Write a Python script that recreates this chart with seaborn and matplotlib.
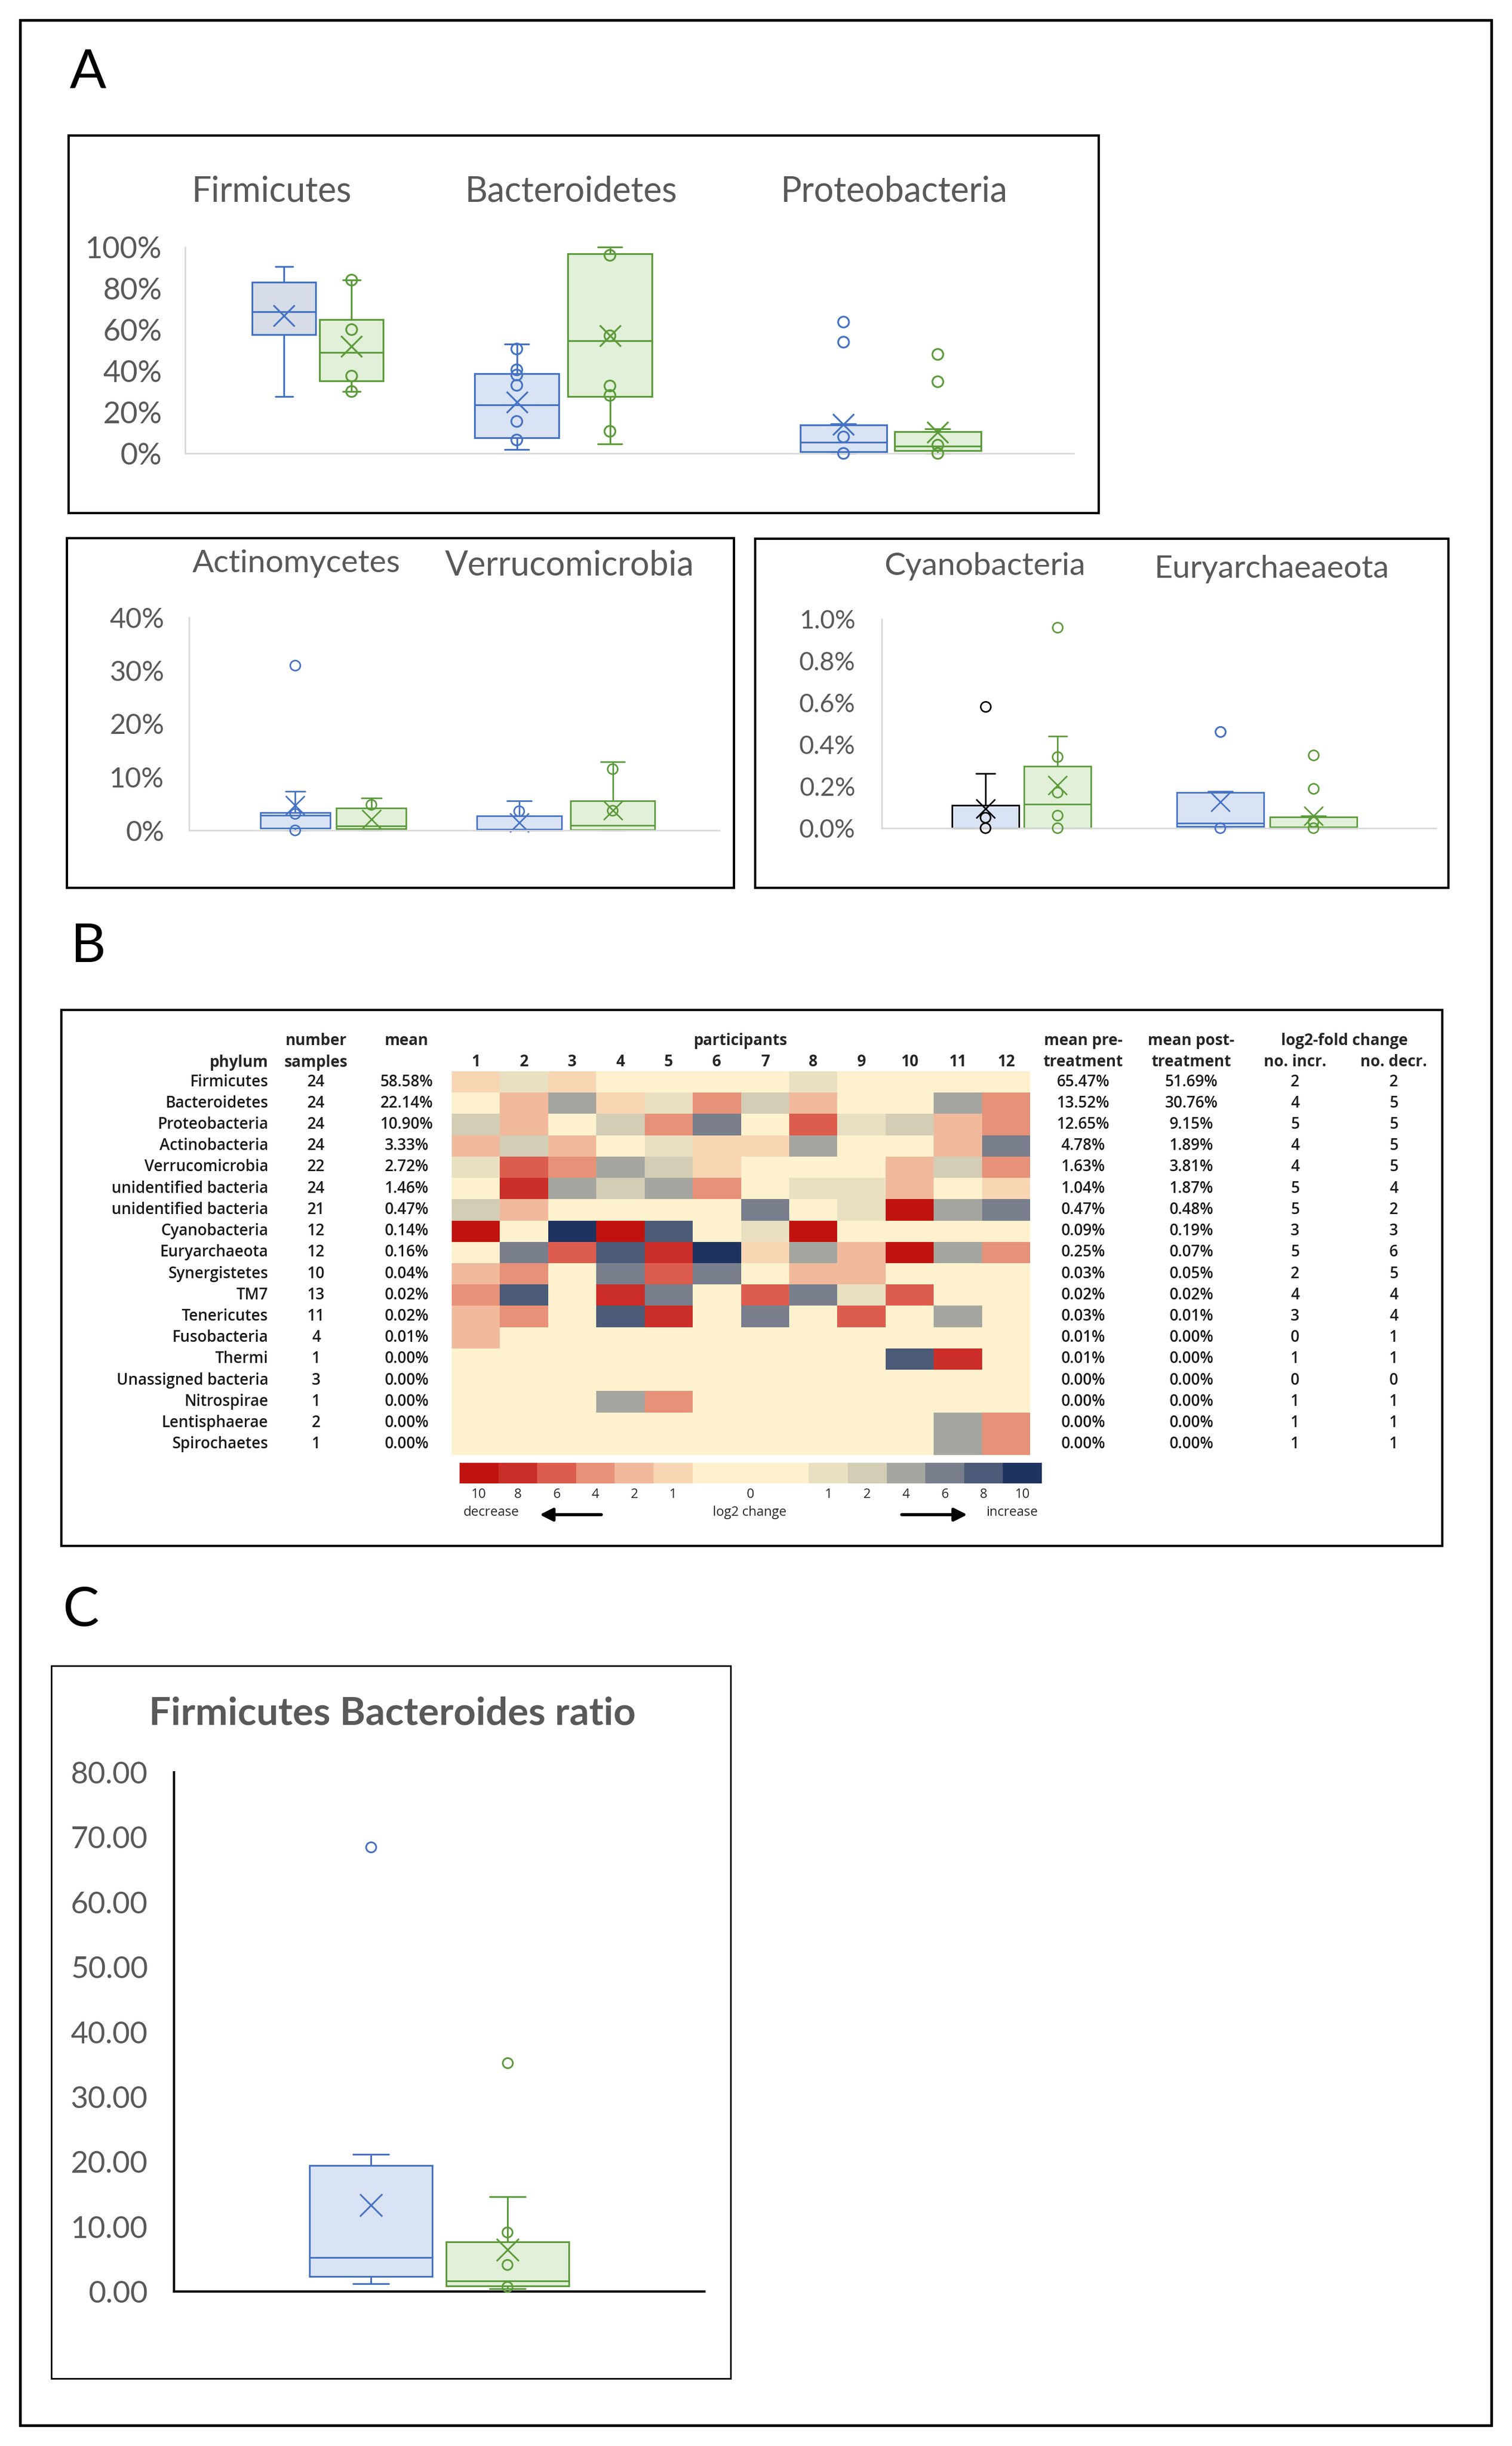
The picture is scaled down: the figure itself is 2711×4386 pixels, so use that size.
import numpy as np
import pandas as pd
import matplotlib
matplotlib.use("Agg")
import matplotlib.pyplot as plt
import seaborn as sns
from matplotlib.colors import ListedColormap, BoundaryNorm
from matplotlib.transforms import blended_transform_factory as blend
from matplotlib.patches import Rectangle, FancyArrowPatch

# ======================= DATA =======================
treatments = ["pre", "post"]

# Panel A, top: relative abundance (%) per participant, pre / post
top_phyla = ["Firmicutes", "Bacteroidetes", "Proteobacteria"]
firmicutes_pre = [27.6, 40, 56, 58.2, 62, 67, 70.4, 72, 82, 86, 88, 90.5]
firmicutes_post = [30, 33, 34.5, 35.2, 37.5, 47, 51, 60, 63, 71, 75, 84]
bacteroidetes_pre = [2, 4, 6.5, 8.1, 15.5, 21, 26.2, 33, 38, 40.5, 50.6, 53]
bacteroidetes_post = [4.5, 10.7, 26, 28.1, 32.7, 52, 57, 78, 96, 99.2, 99.6, 100]
proteobacteria_pre = [0, 0.3, 0.5, 0.9, 3, 5, 5.8, 8, 13.5, 14.3, 54, 63.7]
proteobacteria_post = [0, 0.5, 1.0, 1.3, 2.5, 3.2, 4.0, 6, 10, 12, 35, 48]
# inner points drawn as circles
firmicutes_pre_pts = []
firmicutes_post_pts = [84, 60, 37.5, 30]
bacteroidetes_pre_pts = [50.6, 40.5, 38, 33, 15.5, 6.5]
bacteroidetes_post_pts = [96, 57, 32.7, 28.1, 10.7]
proteobacteria_pre_pts = [8, 0]
proteobacteria_post_pts = [4.0, 0]

# Panel A, bottom left
mid_phyla = ["Actinomycetes", "Verrucomicrobia"]
actino_pre = [0, 0.2, 0.3, 0.5, 1.5, 2.5, 3.1, 3.2, 3.3, 3.7, 7.3, 31]
actino_post = [0, 0.1, 0.15, 0.3, 0.5, 0.7, 0.9, 2.0, 4.0, 4.8, 5.5, 6.1]
verruco_pre = [0, 0, 0, 0, 0.1, 0.2, 0.3, 1.5, 2.5, 3.3, 3.6, 5.5]
verruco_post = [0, 0, 0.1, 0.15, 0.5, 0.8, 1.0, 3.0, 3.7, 11.0, 11.5, 12.9]
actino_pre_pts = [3.1, 0]
actino_post_pts = [4.8]
verruco_pre_pts = [3.6]
verruco_post_pts = [11.5, 3.7]

# Panel A, bottom right
low_phyla = ["Cyanobacteria", "Euryarchaeaeota"]
cyano_pre = [0, 0, 0, 0, 0, 0, 0, 0.05, 0.1, 0.14, 0.26, 0.58]
cyano_post = [0, 0, 0, 0, 0.03, 0.06, 0.17, 0.2, 0.28, 0.34, 0.44, 0.96]
eury_pre = [0, 0, 0, 0.01, 0.02, 0.02, 0.03, 0.17, 0.17, 0.175, 0.46, 0.46]
eury_post = [0, 0, 0, 0, 0, 0, 0.01, 0.03, 0.05, 0.06, 0.19, 0.35]
cyano_pre_pts = [0.05, 0]
cyano_post_pts = [0.34, 0.17, 0.06, 0]
eury_pre_pts = [0]
eury_post_pts = [0.03, 0]

# Panel C: Firmicutes / Bacteroides ratio
ratio_cat = ["Firmicutes Bacteroides ratio"]
fb_pre = [1.2, 1.5, 2.1, 2.4, 4.5, 5.0, 5.4, 8.0, 18.9, 20.9, 21.1, 68.5]
fb_post = [0.4, 0.5, 0.7, 0.9, 1.2, 1.4, 1.8, 4.1, 7.2, 9.1, 14.6, 35.2]
fb_pre_pts = []
fb_post_pts = [9.1, 4.1, 0.7]

# Panel B: heatmap table
hm_phyla = ["Firmicutes", "Bacteroidetes", "Proteobacteria", "Actinobacteria",
            "Verrucomicrobia", "unidentified bacteria", "unidentified bacteria",
            "Cyanobacteria", "Euryarchaeota", "Synergistetes", "TM7", "Tenericutes",
            "Fusobacteria", "Thermi", "Unassigned bacteria", "Nitrospirae",
            "Lentisphaerae", "Spirochaetes"]
n_samples = [24, 24, 24, 24, 22, 24, 21, 12, 12, 10, 13, 11, 4, 1, 3, 1, 2, 1]
mean_all = [58.58, 22.14, 10.90, 3.33, 2.72, 1.46, 0.47, 0.14, 0.16, 0.04, 0.02,
            0.02, 0.01, 0.00, 0.00, 0.00, 0.00, 0.00]
mean_pre = [65.47, 13.52, 12.65, 4.78, 1.63, 1.04, 0.47, 0.09, 0.25, 0.03, 0.02,
            0.03, 0.01, 0.01, 0.00, 0.00, 0.00, 0.00]
mean_post = [51.69, 30.76, 9.15, 1.89, 3.81, 1.87, 0.48, 0.19, 0.07, 0.05, 0.02,
             0.01, 0.00, 0.00, 0.00, 0.00, 0.00, 0.00]
n_incr = [2, 4, 5, 4, 4, 5, 5, 3, 5, 2, 4, 3, 0, 1, 0, 1, 1, 1]
n_decr = [2, 5, 5, 5, 5, 4, 2, 3, 6, 5, 4, 4, 1, 1, 0, 1, 1, 1]
participants = [str(i) for i in range(1, 13)]
# log2 change per participant (negative = decrease, positive = increase)
log2_change = [
    [-1, 1, -1, 0, 0, 0, 0, 1, 0, 0, 0, 0],
    [0, -2, 4, -1, 1, -4, 2, -2, 0, 0, 4, -4],
    [2, -2, 0, 2, -4, 6, 0, -6, 1, 2, -2, -4],
    [-2, 2, -2, 0, 1, -1, -1, 4, 0, 0, -2, 6],
    [1, -6, -4, 4, 2, -1, 0, 0, 0, -2, 2, -4],
    [0, -8, 4, 2, 4, -4, 0, 1, 1, -2, 0, -1],
    [2, -2, 0, 0, 0, 0, 6, 0, 1, -10, 4, 6],
    [-10, 0, 10, -10, 8, 0, 1, -10, 0, 0, 0, 0],
    [0, 6, -6, 8, -8, 10, -1, 4, -2, -10, 4, -4],
    [-2, -4, 0, 6, -6, 6, 0, -2, -2, 0, 0, 0],
    [-4, 8, 0, -8, 6, 0, -6, 6, 1, -6, 0, 0],
    [-2, -4, 0, 8, -8, 0, 6, 0, -6, 0, 4, 0],
    [-2, 0, 0, 0, 0, 0, 0, 0, 0, 0, 0, 0],
    [0, 0, 0, 0, 0, 0, 0, 0, 0, 8, -8, 0],
    [0, 0, 0, 0, 0, 0, 0, 0, 0, 0, 0, 0],
    [0, 0, 0, 4, -4, 0, 0, 0, 0, 0, 0, 0],
    [0, 0, 0, 0, 0, 0, 0, 0, 0, 0, 4, -4],
    [0, 0, 0, 0, 0, 0, 0, 0, 0, 0, 4, -4],
]
level_values = [-10, -8, -6, -4, -2, -1, 0, 1, 2, 4, 6, 8, 10]
level_colors = ["#C0130F", "#CB2E28", "#DC5D4E", "#E79178", "#F1B99B", "#F8D6B4",
                "#FEF1CD", "#E9E0C2", "#D3CDB6", "#A5A6A0", "#787E8C", "#4B5B78",
                "#1F3360"]
legend_cells = [-10, -8, -6, -4, -2, -1, 0, 0, 0, 1, 2, 4, 6, 8, 10]

# ======================= STYLE =======================
W, H = 2711, 4386
sns.set_theme(style="white")
plt.rcParams["font.family"] = ["Lato", "DejaVu Sans"]
TXT = "#595959"
BLUE = "#4472C4"
GREEN = "#5B9B3A"
FILL_PRE = "#DAE3F3"
FILL_PRE_GRAY = "#D6DCE5"
FILL_POST = "#E2F0D9"
HMFONT = ["Open Sans", "DejaVu Sans"]
HMWEIGHT = "semibold"

fig = plt.figure(figsize=(W / 100, H / 100), dpi=100)
fig.patch.set_facecolor("white")


def fx(x):
    return x / W


def fy(y):
    return 1 - y / H


def axes_px(l, t, r, b):
    return fig.add_axes([fx(l), fy(b), (r - l) / W, (b - t) / H])


def frame(l, t, r, b, lw):
    fig.add_artist(Rectangle((fx(l), fy(b)), (r - l) / W, (b - t) / H,
                             transform=fig.transFigure, fill=False,
                             edgecolor="black", linewidth=lw, zorder=20))


def long_df(cats, pre_lists, post_lists):
    rows = []
    for c, pre, post in zip(cats, pre_lists, post_lists):
        rows += [(c, "pre", v) for v in pre]
        rows += [(c, "post", v) for v in post]
    return pd.DataFrame(rows, columns=["phylum", "treatment", "value"])


def draw_box_panel(ax, cats, order, pre_lists, post_lists, pre_pts, post_pts,
                   widths, gaps, edges, fills, lw, mean_ms, fl_ms):
    df = long_df(cats, pre_lists, post_lists)
    pts = long_df(cats, pre_pts, post_pts)
    for ci, cat in enumerate(cats):
        pos = order.index(cat)
        for ti, t in enumerate(treatments):
            ec = edges[ci][ti]
            fc = fills[ci][ti]
            sub = df[(df["phylum"] == cat) & (df["treatment"] == t)]
            sns.boxplot(data=sub, x="phylum", y="value", hue="treatment",
                        order=order, hue_order=treatments, dodge=True,
                        width=widths[ci], gap=gaps[ci],
                        palette={k: fc for k in treatments}, saturation=1,
                        linecolor=ec, linewidth=lw, whis=1.5,
                        showmeans=True,
                        meanprops=dict(marker="x", markeredgecolor=ec,
                                       markerfacecolor=ec, markersize=mean_ms,
                                       markeredgewidth=lw),
                        flierprops=dict(marker="o", markerfacecolor="none",
                                        markeredgecolor=ec, markersize=fl_ms,
                                        markeredgewidth=lw),
                        capwidths=widths[ci] * 0.13,
                        legend=False, ax=ax)
            psub = pts[(pts["phylum"] == cat) & (pts["treatment"] == t)]
            if len(psub):
                n0 = len(ax.collections)
                sns.stripplot(data=psub, x="phylum", y="value", hue="treatment",
                              order=order, hue_order=treatments, dodge=True,
                              jitter=False, palette={k: ec for k in treatments},
                              size=fl_ms, linewidth=lw, legend=False, ax=ax,
                              zorder=6)
                for coll in list(ax.collections[n0:]):
                    off = np.array(coll.get_offsets())
                    if off.shape[0] == 0:
                        coll.remove()
                        continue
                    coll.set_facecolor("none")
                    coll.set_edgecolor(ec)
                    off[:, 0] = pos + (off[:, 0] - pos) * (widths[ci] / 4) / 0.2
                    coll.set_offsets(off)


def style_box_axes(ax, xlim, ylim, ticks, labels, fs, pad, spine_color, spine_lw):
    ax.set_xlim(xlim)
    ax.set_ylim(ylim)
    ax.set_xlabel("")
    ax.set_ylabel("")
    ax.set_xticks([])
    ax.set_yticks(ticks)
    ax.set_yticklabels(labels)
    ax.tick_params(axis="y", length=0, pad=pad, labelsize=fs, labelcolor=TXT)
    ax.spines[["top", "right"]].set_visible(False)
    for s in ["left", "bottom"]:
        ax.spines[s].set_color(spine_color)
        ax.spines[s].set_linewidth(spine_lw)
    ax.set_facecolor("none")
    ax.grid(False)
    for a in list(ax.lines) + list(ax.patches) + list(ax.collections):
        a.set_clip_on(False)


# ======================= FRAMES & LETTERS =======================
frame(36, 36, 2674, 4349, 3.5)
frame(123, 243, 1970, 920, 3)
frame(120, 965, 1316, 1592, 3)
frame(1354, 966, 2597, 1592, 3)
frame(110, 1811, 2586, 2772, 3)
frame(92, 2987, 1310, 4265, 2)
for letter, (x, y) in zip(["A", "B", "C"], [(158, 131), (158, 1698), (145, 2889)]):
    fig.text(fx(x), fy(y), letter, fontsize=70, ha="center", va="center", color="black")

# ======================= PANEL A TOP =======================
# three phyla on one axis; unused slots give the uneven spacing of the original
top_order = [top_phyla[0], "_a", "_b", top_phyla[1], "_c", "_d", "_e", top_phyla[2]]
ax1 = axes_px(332, 443, 1925, 813)
draw_box_panel(ax1, top_phyla, top_order,
               [firmicutes_pre, bacteroidetes_pre, proteobacteria_pre],
               [firmicutes_post, bacteroidetes_post, proteobacteria_post],
               [firmicutes_pre_pts, bacteroidetes_pre_pts, proteobacteria_pre_pts],
               [firmicutes_post_pts, bacteroidetes_post_pts, proteobacteria_post_pts],
               widths=[1.65, 2.277, 2.304], gaps=[0.058, 0.096, 0.083],
               edges=[[BLUE, GREEN]] * 3,
               fills=[[FILL_PRE_GRAY, FILL_POST], [FILL_PRE, FILL_POST], [FILL_PRE, FILL_POST]],
               lw=2.3, mean_ms=28, fl_ms=14)
style_box_axes(ax1, (-1.622, 9.236), (0, 100), [0, 20, 40, 60, 80, 100],
               [f"{v}%" for v in [0, 20, 40, 60, 80, 100]], 39, 30, "#D9D9D9", 2)
for name, (x, y) in zip(top_phyla, [(487, 344), (1024, 344), (1603, 344)]):
    fig.text(fx(x), fy(y), name, fontsize=45, color=TXT, ha="center", va="center")

# ======================= PANEL A BOTTOM LEFT =======================
ax2 = axes_px(339, 1107, 1290, 1489)
draw_box_panel(ax2, mid_phyla, mid_phyla, [actino_pre, verruco_pre], [actino_post, verruco_post],
               [actino_pre_pts, verruco_pre_pts], [actino_post_pts, verruco_post_pts],
               widths=[0.655, 0.804], gaps=[0.085, 0.095],
               edges=[[BLUE, GREEN]] * 2,
               fills=[[FILL_PRE, FILL_POST]] * 2,
               lw=2.0, mean_ms=24, fl_ms=13)
style_box_axes(ax2, (-0.62, 1.66), (0, 40), [0, 10, 20, 30, 40],
               [f"{v}%" for v in [0, 10, 20, 30, 40]], 36, 32, "#D9D9D9", 2)
for name, (x, y), fs in zip(mid_phyla, [(531, 1010), (1021, 1014)], [41, 44]):
    fig.text(fx(x), fy(y), name, fontsize=fs, color=TXT, ha="center", va="center")

# ======================= PANEL A BOTTOM RIGHT =======================
ax3 = axes_px(1581, 1110, 2575, 1485)
draw_box_panel(ax3, low_phyla, low_phyla, [cyano_pre, eury_pre], [cyano_post, eury_post],
               [cyano_pre_pts, eury_pre_pts], [cyano_post_pts, eury_post_pts],
               widths=[0.588, 0.76], gaps=[0.07, 0.07],
               edges=[["#000000", GREEN], [BLUE, GREEN]],
               fills=[[FILL_PRE, FILL_POST]] * 2,
               lw=2.0, mean_ms=24, fl_ms=13)
style_box_axes(ax3, (-0.57, 1.69), (0, 1.0), [0, 0.2, 0.4, 0.6, 0.8, 1.0],
               [f"{v:.1f}%" for v in [0, 0.2, 0.4, 0.6, 0.8, 1.0]], 33, 34, "#D9D9D9", 2)
for name, (x, y) in zip(low_phyla, [(1766, 1016), (2280, 1020)]):
    fig.text(fx(x), fy(y), name, fontsize=41, color=TXT, ha="center", va="center")

# ======================= PANEL B HEATMAP =======================
cmap = ListedColormap(level_colors)
bounds = [-11, -9, -7, -5, -3, -1.5, -0.5, 0.5, 1.5, 3, 5, 7, 9, 11]
norm = BoundaryNorm(bounds, cmap.N)

hm = axes_px(810, 1921, 1847, 2609)
sns.heatmap(np.array(log2_change), cmap=cmap, norm=norm, cbar=False, ax=hm,
            xticklabels=False, yticklabels=False, linewidths=0)
hm.set_xlabel("")
hm.set_ylabel("")

FS = 20
tr_rows = blend(fig.transFigure, hm.transData)
cell_kw = dict(transform=tr_rows, va="center", fontsize=FS, family=HMFONT,
               fontweight=HMWEIGHT, color="#1a1a1a")
for i, name in enumerate(hm_phyla):
    y = i + 0.5
    hm.text(fx(481), y, name, ha="right", **cell_kw)
    hm.text(fx(567), y, str(n_samples[i]), ha="center", **cell_kw)
    hm.text(fx(729), y, f"{mean_all[i]:.2f}%", ha="center", **cell_kw)
    hm.text(fx(1942), y, f"{mean_pre[i]:.2f}%", ha="center", **cell_kw)
    hm.text(fx(2136), y, f"{mean_post[i]:.2f}%", ha="center", **cell_kw)
    hm.text(fx(2322), y, str(n_incr[i]), ha="center", **cell_kw)
    hm.text(fx(2499), y, str(n_decr[i]), ha="center", **cell_kw)

tr_cols = blend(hm.transData, fig.transFigure)
for j, p in enumerate(participants):
    hm.text(j + 0.5, fy(1904), p, transform=tr_cols, ha="center", va="center",
            fontsize=FS, fontweight="bold", family=HMFONT)

headers = [(481, 1905, "phylum", "right"), (567, 1866, "number", "center"),
           (567, 1905, "samples", "center"), (729, 1866, "mean", "center"),
           (1328, 1866, "participants", "center"),
           (1942, 1866, "mean pre-", "center"), (1942, 1905, "treatment", "center"),
           (2136, 1866, "mean post-", "center"), (2136, 1905, "treatment", "center"),
           (2411, 1866, "log2-fold change", "center"), (2322, 1905, "no. incr.", "center"),
           (2499, 1905, "no. decr.", "center")]
for x, y, s, ha in headers:
    fig.text(fx(x), fy(y), s, ha=ha, va="center", fontsize=FS, fontweight="bold", family=HMFONT)

# legend strip
cb = axes_px(824, 2623, 1868, 2660)
sns.heatmap(np.array([legend_cells]), cmap=cmap, norm=norm, cbar=False, ax=cb,
            xticklabels=False, yticklabels=False, linewidths=0)
cb.set_xlabel("")
cb.set_ylabel("")
tr_cb = blend(cb.transData, fig.transFigure)
start = 0
for k in range(1, len(legend_cells) + 1):
    if k == len(legend_cells) or legend_cells[k] != legend_cells[start]:
        center = (start + k) / 2
        cb.text(center, fy(2680), str(abs(legend_cells[start])), transform=tr_cb,
                ha="center", va="center", fontsize=17, family=HMFONT)
        start = k
fig.text(fx(881), fy(2712), "decrease", ha="center", va="center", fontsize=17, family=HMFONT)
fig.text(fx(1344), fy(2712), "log2 change", ha="center", va="center", fontsize=17, family=HMFONT)
fig.text(fx(1814), fy(2712), "increase", ha="center", va="center", fontsize=17, family=HMFONT)
for (x0, x1) in [(1081, 965), (1614, 1737)]:
    fig.add_artist(FancyArrowPatch((fx(x0), fy(2716)), (fx(x1), fy(2716)),
                                   transform=fig.transFigure,
                                   arrowstyle="-|>,head_length=0.7,head_width=0.35",
                                   mutation_scale=20, linewidth=4, color="black"))

# ======================= PANEL C =======================
ax4 = axes_px(312, 3178, 1263, 4109)
draw_box_panel(ax4, ratio_cat, ratio_cat, [fb_pre], [fb_post], [fb_pre_pts], [fb_post_pts],
               widths=[0.515], gaps=[0.10], edges=[[BLUE, GREEN]],
               fills=[[FILL_PRE, FILL_POST]], lw=2.2, mean_ms=29, fl_ms=13)
style_box_axes(ax4, (-0.5, 0.5), (0, 80), list(range(0, 81, 10)),
               [f"{v:.2f}" for v in range(0, 81, 10)], 39, 34, "black", 3)
fig.text(fx(703), fy(3073), ratio_cat[0], fontsize=50, fontweight="bold",
         color=TXT, ha="center", va="center")

fig.savefig("out.png", dpi=100)
